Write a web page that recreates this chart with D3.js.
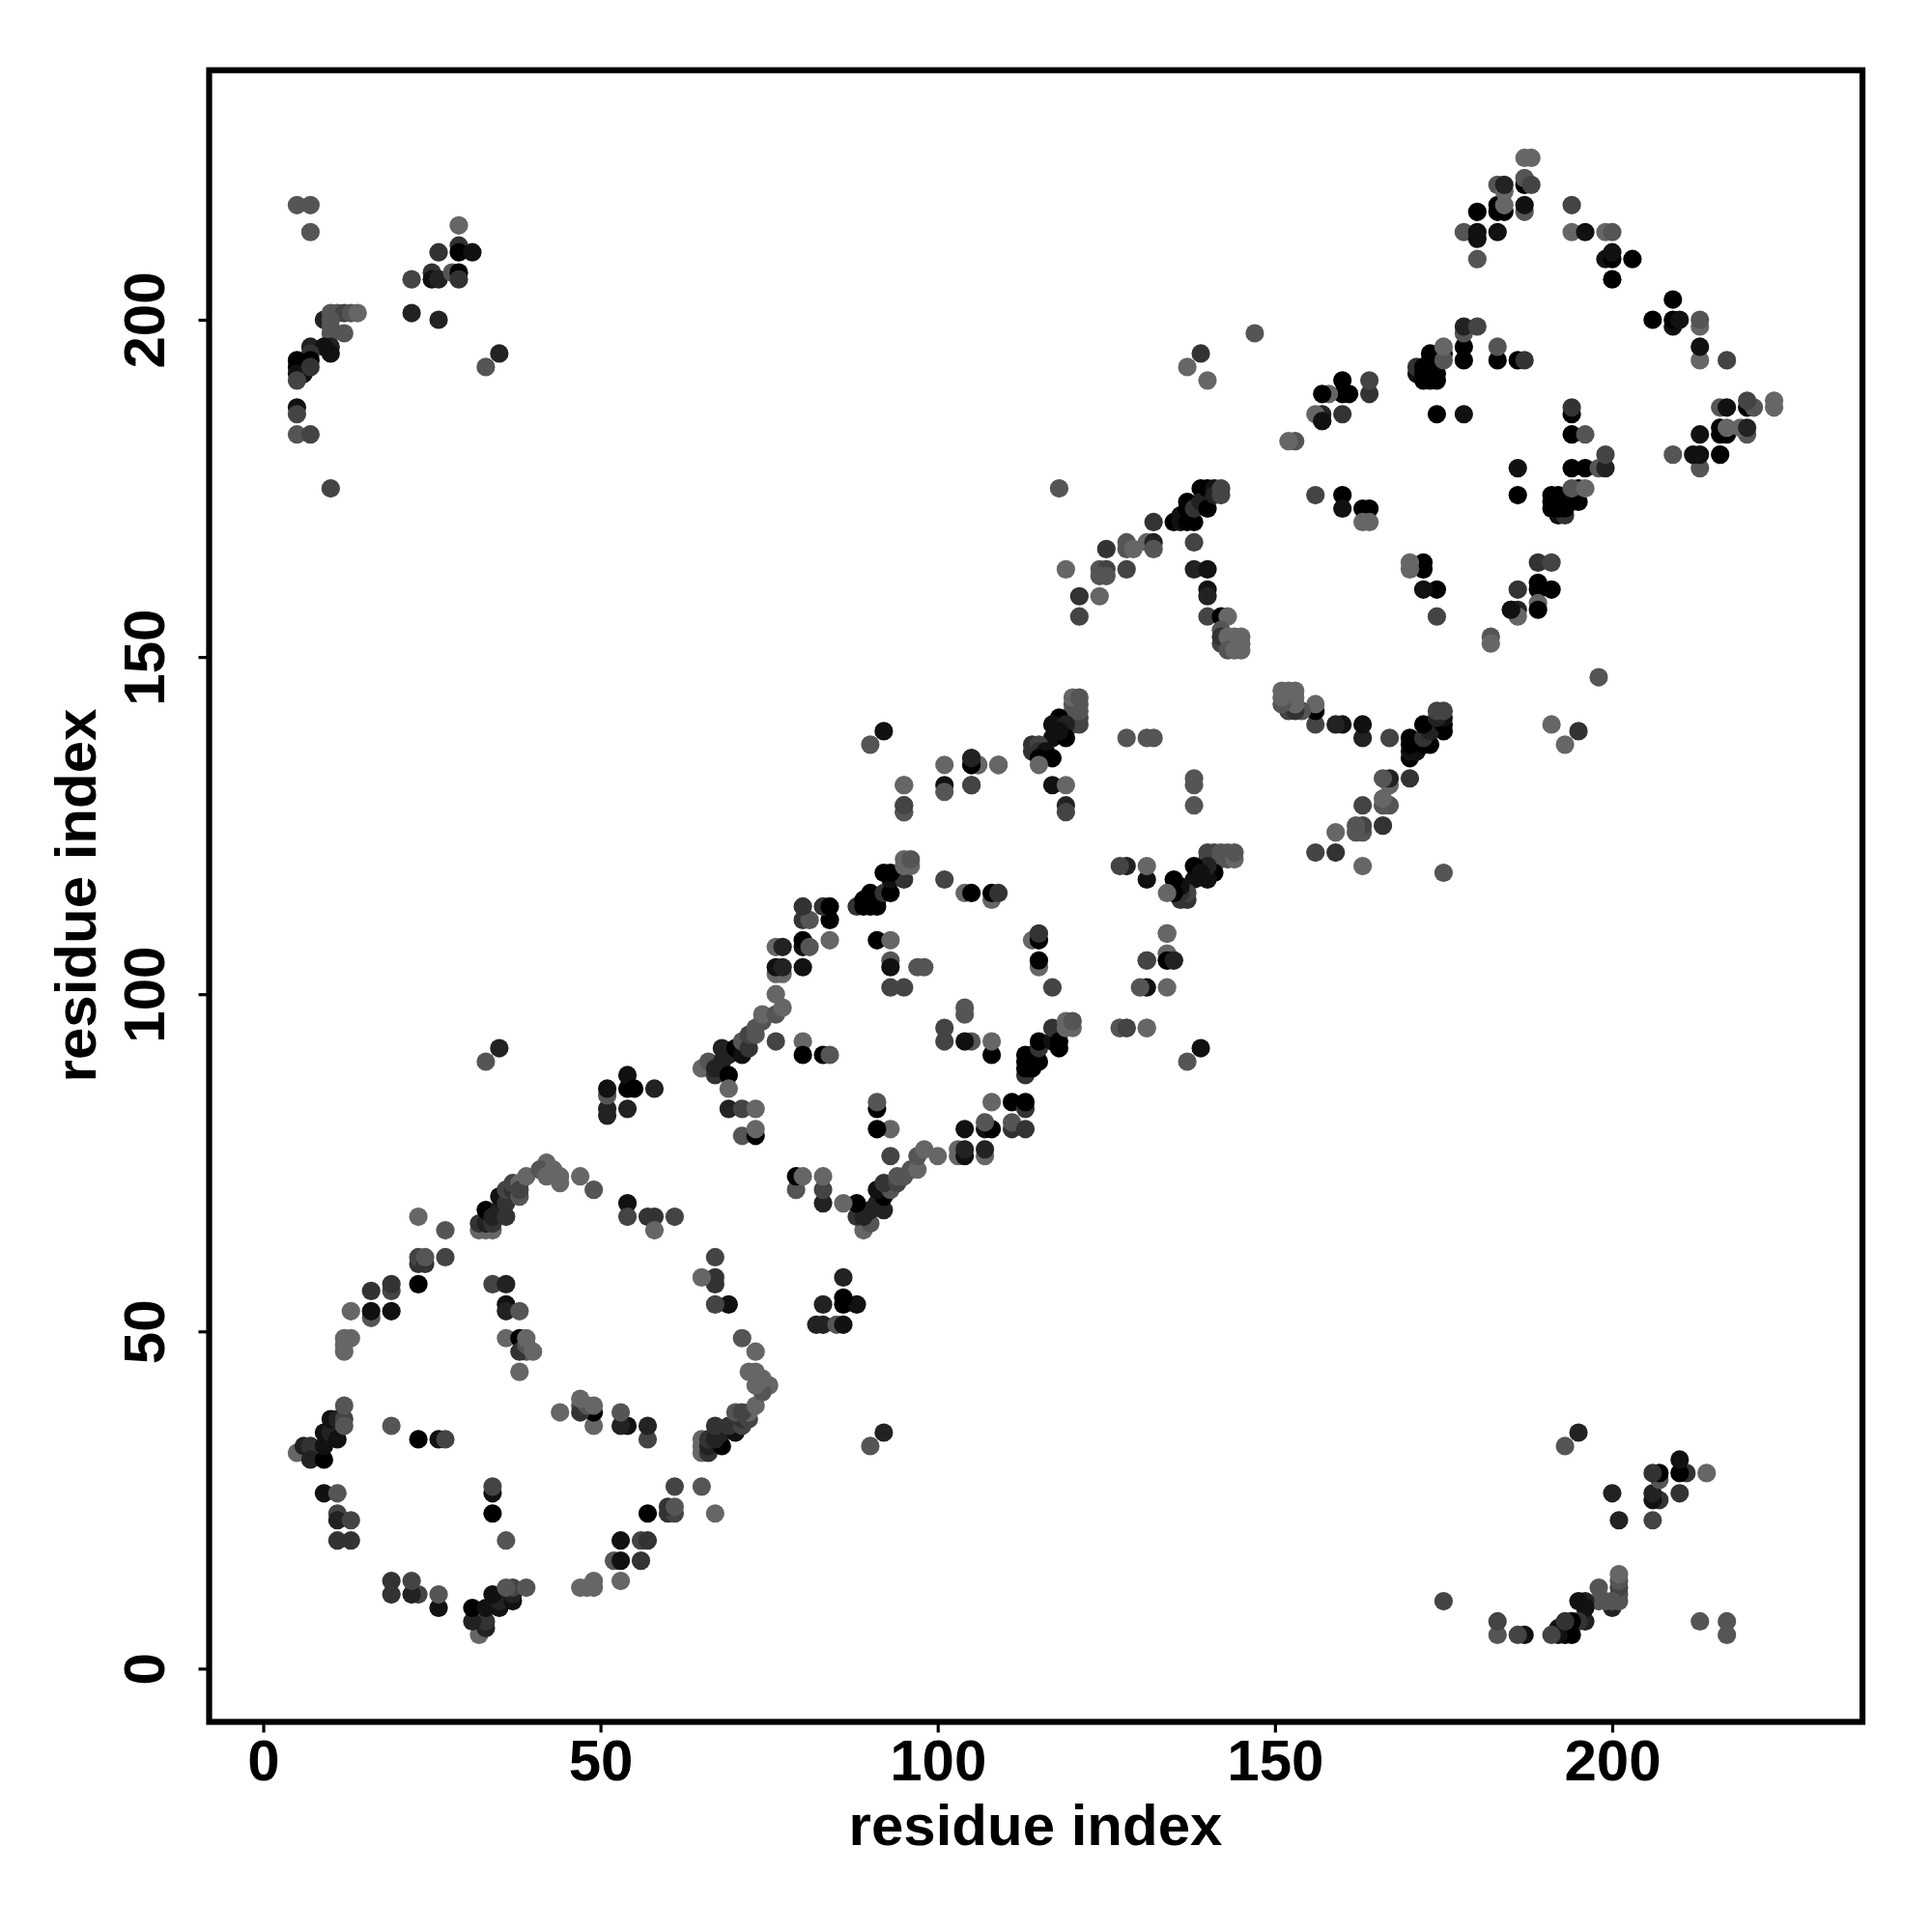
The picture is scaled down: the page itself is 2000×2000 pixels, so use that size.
<!DOCTYPE html>
<html><head><meta charset="utf-8">
<script src="https://cdn.jsdelivr.net/npm/d3@7/dist/d3.min.js"></script>
<style>html,body{margin:0;padding:0;background:#fff}svg{display:block}text{font-family:"Liberation Sans",Arial,sans-serif;font-weight:bold;fill:#000}</style>
</head><body><svg id="c" width="2000" height="2000"></svg>
<script>
// Contacts: [residue a, residue b, confidence level 0 (strongest) .. 6 (weakest)]; the map is symmetric.
const xTicks = [0, 50, 100, 150, 200];
const yTicks = [0, 50, 100, 150, 200];
const axisTitle = "residue index";
const ringOneTip = [[5,32,6],[6,33,2],[7,33,3],[7,31,2],[9,31,0],[9,33,1],[9,35,1],[10,35,2],[10,37,1],[11,34,1],[11,37,2],[12,37,4],[12,36,5],[12,39,5],[9,26,1],[11,26,5],[11,23,4],[11,22,2],[13,22,4],[11,19,3],[13,19,3],[19,36,5],[23,34,0],[26,34,1],[27,34,4]];
const ringOneArc = [[12,47,6],[12,48,6],[12,49,6],[13,49,6],[13,53,6],[16,52,5],[16,53,1],[16,56,3],[19,53,1],[19,56,4],[19,57,3],[23,57,0],[23,60,3],[23,61,4],[24,60,3],[24,61,5],[23,67,6],[27,65,5],[27,61,4]];
const ringOneTop = [[32,65,6],[33,65,6],[34,65,6],[32,66,3],[33,66,2],[34,66,3],[33,68,0],[34,67,2],[35,68,2],[35,70,1],[36,67,3],[36,69,3],[36,71,4],[37,71,3],[38,70,5],[37,72,4],[38,72,6],[38,71,4],[39,73,6],[42,75,6],[41,74,5],[42,73,6],[43,74,6],[44,73,6],[44,72,6],[47,73,6],[49,71,5],[54,69,1],[54,67,4],[57,67,3],[58,67,3],[58,65,6],[61,67,4]];
const ringOneInner = [[34,57,4],[36,57,2],[36,54,1],[36,53,2],[38,53,5],[36,49,6],[38,49,0],[39,47,5],[38,47,3],[39,48,5],[39,49,6],[40,47,6],[38,44,6]];
const bridgeOne = [[51,82,2],[51,83,2],[51,85,5],[51,86,1],[54,83,2],[54,86,0],[54,88,1],[55,86,0],[58,86,2],[33,90,5],[35,92,2]];
const ringTwoArc = [[65,89,6],[66,90,5],[67,88,3],[67,89,2],[68,90,2],[68,92,2],[69,88,0],[69,91,2],[69,86,6],[70,92,0],[71,91,1],[71,93,5],[72,92,3],[72,94,4],[73,94,5],[73,95,5],[74,96,5],[74,97,6],[76,93,4],[76,97,5],[76,100,6],[77,98,6],[69,83,2],[71,83,4],[73,83,6],[71,79,5],[73,79,0],[73,80,6]];
const ringTwoTop = [[76,103,6],[77,103,6],[76,104,1],[77,104,2],[76,107,6],[77,107,2],[80,104,1],[80,107,1],[80,108,0],[81,107,5],[84,108,6],[80,111,3],[81,111,5],[84,111,0],[80,113,3],[83,113,3],[84,113,0]];
const ringTwoInner = [[80,93,6],[80,91,0],[83,91,0],[84,91,5],[91,108,0],[93,108,6],[93,105,5],[93,104,1],[97,104,5],[98,104,5],[93,101,4],[95,101,4],[101,117,4],[104,115,6],[105,115,0],[108,114,6],[108,115,0],[109,115,3]];
const ringTwoDiag = [[88,113,3],[89,113,0],[90,113,0],[91,113,0],[89,114,0],[91,114,0],[90,115,0],[92,115,3],[93,115,0],[93,117,1],[95,117,3],[92,118,0],[93,118,0],[95,119,6],[96,119,6],[95,120,6],[96,120,5]];
const ringThreeLeft = [[120,140,4],[121,140,4],[120,141,5],[121,141,4],[120,142,5],[121,142,5],[120,143,5],[121,143,5],[120,144,6],[121,144,5],[118,141,0],[117,140,1],[119,140,2],[117,138,1],[119,138,0],[118,139,1],[114,136,3],[114,137,3],[115,137,4],[115,136,3],[116,136,1],[115,135,0],[117,135,0],[115,134,6],[92,139,1],[90,137,5],[101,134,6],[105,135,2],[105,134,0],[106,134,6],[109,134,6],[95,131,6],[95,128,5],[95,127,5],[101,131,1],[101,130,5],[105,131,4],[117,131,1],[119,131,6],[119,128,2],[119,127,4],[128,138,5],[131,138,5],[132,138,5]];
const ringThreeLow = [[95,127,5],[95,128,4],[95,131,6],[109,134,6],[106,134,6],[105,131,4],[105,134,0],[105,135,2]];
const ringFourEdge = [[118,175,5],[119,163,6],[121,159,3],[124,159,6],[121,156,4],[124,163,5],[125,163,4],[124,162,5],[125,162,5],[125,166,3],[128,167,5],[128,166,5],[129,166,6],[128,163,4],[131,167,6],[132,167,2],[132,166,5],[132,170,3]];
const ringFourTop = [[135,170,0],[136,170,1],[136,171,1],[137,170,0],[138,170,0],[137,173,0],[137,172,0],[138,172,3],[139,175,0],[139,173,2],[140,172,0],[140,175,0],[141,175,1],[141,174,2],[142,175,4],[142,174,4]];
const ringFourRight = [[138,167,4],[138,163,2],[140,163,1],[140,160,1],[140,159,2],[140,156,4],[142,156,0],[143,156,6],[142,154,5],[142,152,4],[142,153,3],[143,153,6],[144,153,6],[145,153,6],[143,151,5],[144,151,6],[145,151,6],[145,152,6]];
const ringFiveInner = [[156,174,4],[160,174,0],[160,172,1],[163,172,0],[164,172,0],[163,170,6],[164,170,6],[153,182,5],[152,182,6],[157,185,1],[157,186,2],[156,186,6],[160,186,3],[161,189,0],[160,189,0],[160,191,0],[164,189,3],[164,191,4],[158,189,6],[157,189,0],[157,185,1]];
const ringFiveArc = [[171,192,1],[171,193,3],[172,191,0],[172,192,0],[172,193,0],[173,191,0],[173,192,0],[173,193,0],[174,191,0],[174,192,0],[173,194,0],[173,195,0],[175,195,0],[175,194,5],[175,196,6]];
const ringFiveTop = [[174,186,0],[178,186,1],[178,194,0],[178,196,0],[178,198,5],[178,199,2],[180,199,4],[183,194,0],[183,196,5],[186,194,0],[187,194,3],[147,198,5],[140,191,6],[139,195,3],[137,193,6]];
const ringSix = [[178,213,5],[180,209,5],[180,212,1],[180,213,1],[180,216,0],[183,213,1],[183,216,0],[183,217,0],[184,216,0],[184,217,6],[183,220,5],[184,219,6],[184,220,2],[187,216,5],[187,217,1],[187,220,0],[187,221,5],[188,220,4],[187,224,6],[188,224,6],[194,213,6],[194,217,4],[196,213,1],[199,213,6],[200,213,5],[199,209,1],[200,209,0],[200,210,1],[203,209,0],[200,206,0]];
const farCorner = [[5,217,5],[7,217,5],[7,213,5],[29,214,6],[26,210,3],[29,211,3],[29,210,0],[31,210,1],[22,206,4],[25,207,3],[25,206,1],[26,206,2],[28,207,5],[29,207,0],[29,206,3],[22,201,2],[26,200,2],[35,195,2],[33,193,5],[9,200,2],[10,201,5],[11,201,5],[12,201,4],[13,201,5],[14,201,6],[10,200,5],[10,199,5],[10,198,5],[12,198,5],[7,196,2],[10,196,2],[10,195,1],[9,196,1],[7,195,3],[7,194,0],[5,194,0],[5,193,0],[5,192,1],[6,192,1],[7,193,3],[5,191,4],[5,187,1],[5,186,4],[5,183,5],[7,183,4],[10,175,4]];

const contacts = [].concat(ringOneTip, ringOneArc, ringOneTop, ringOneInner, bridgeOne, ringTwoArc, ringTwoTop, ringTwoInner, ringTwoDiag, ringThreeLeft, ringThreeLow, ringFourEdge, ringFourTop, ringFourRight, ringFiveInner, ringFiveArc, ringFiveTop, ringSix, farCorner);

const box = {left: 216.5, right: 1928, top: 72.7, bottom: 1782.5};
const x = d3.scaleLinear().domain([-8.02, 237.1]).range([box.left, box.right]);
const y = d3.scaleLinear().domain([-7.9, 237.0]).range([box.bottom, box.top]);
const grey = d3.scaleLinear().domain([0, 6]).range(["#000000", "#666666"]);

const svg = d3.select("#c");
const points = contacts.flatMap(([a, b, s]) => [{px: a, py: b, s}, {px: b, py: a, s}]);
svg.append("g").selectAll("circle").data(points).join("circle")
  .attr("cx", d => x(d.px)).attr("cy", d => y(d.py)).attr("r", 9.6).attr("fill", d => grey(d.s));

svg.append("rect").attr("x", box.left).attr("y", box.top)
  .attr("width", box.right - box.left).attr("height", box.bottom - box.top)
  .attr("fill", "none").attr("stroke", "#000").attr("stroke-width", 6.2);

const gx = svg.append("g").attr("transform", `translate(0,${box.bottom})`)
  .call(d3.axisBottom(x).tickValues(xTicks).tickSize(11).tickSizeOuter(0).tickPadding(7));
const gy = svg.append("g").attr("transform", `translate(${box.left},0)`)
  .call(d3.axisLeft(y).tickValues(yTicks).tickSize(11).tickSizeOuter(0));
[gx, gy].forEach(g => {
  g.select(".domain").remove();
  g.selectAll("line").attr("stroke", "#000").attr("stroke-width", 3.2);
  g.selectAll("text").style("font-size", "60px");
});
gy.selectAll("text").attr("x", 0).attr("y", 0).attr("dy", 0)
  .attr("text-anchor", "middle").attr("transform", "translate(-47,0) rotate(-90)");

svg.append("text").attr("x", 1072).attr("y", 1910).attr("text-anchor", "middle")
  .style("font-size", "60px").text(axisTitle);
svg.append("text").attr("transform", "translate(99,927) rotate(-90)").attr("text-anchor", "middle")
  .style("font-size", "60px").text(axisTitle);
</script></body></html>
